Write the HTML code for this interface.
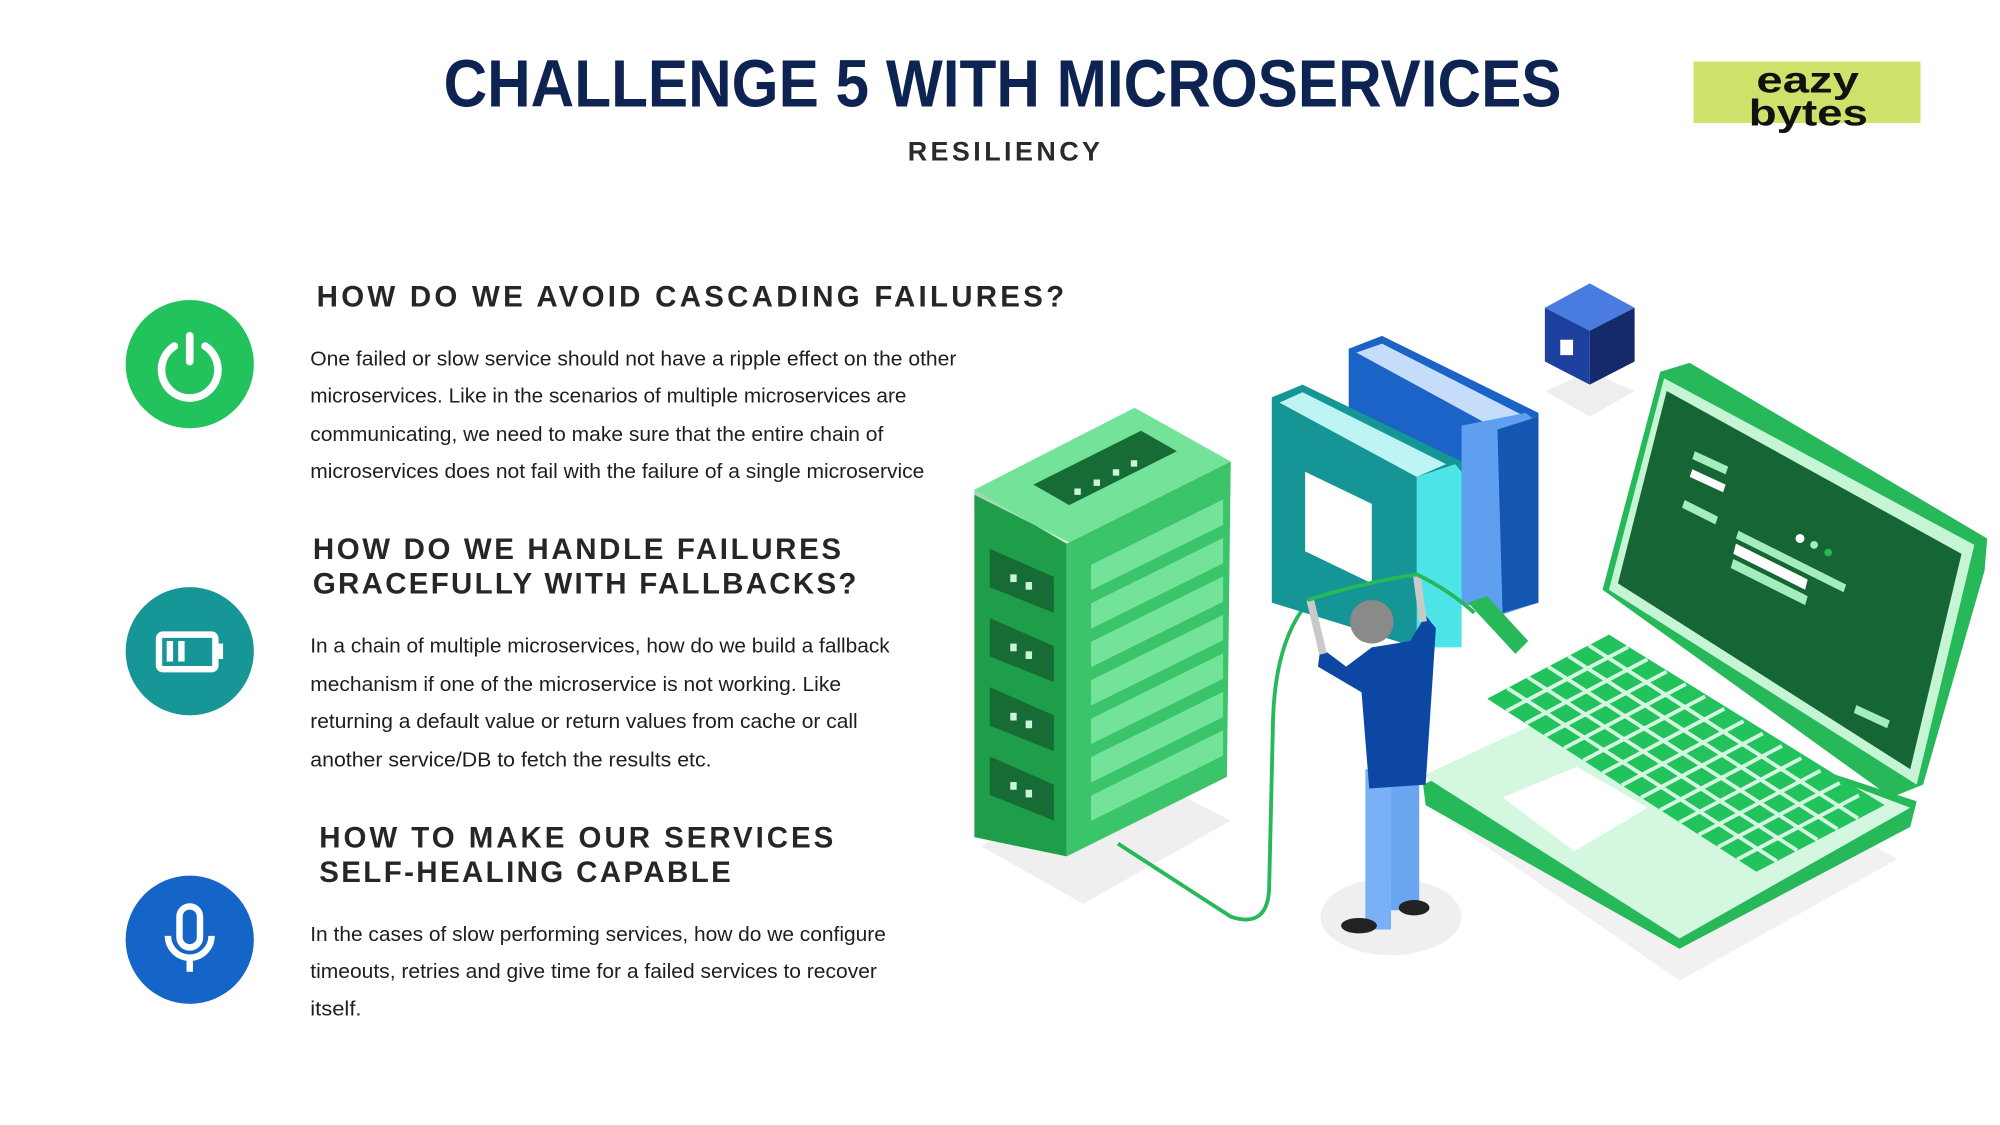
<!DOCTYPE html>
<html><head><meta charset="utf-8"><style>
html,body{margin:0;padding:0;background:#fff;}
svg{display:block}
text{font-family:"Liberation Sans",sans-serif}
</style></head><body>
<svg width="2000" height="1125" viewBox="0 0 1560 877.5" xmlns="http://www.w3.org/2000/svg">
<rect width="1560" height="877.5" fill="#fff"/>
<!-- Title -->
<text x="346" y="83" font-size="52" font-weight="bold" fill="#0d2352" textLength="872" lengthAdjust="spacingAndGlyphs">CHALLENGE 5 WITH MICROSERVICES</text>
<text x="708" y="125" font-size="21" font-weight="bold" fill="#2a2a2a" textLength="150" lengthAdjust="spacing">RESILIENCY</text>
<rect x="1321" y="48" width="177" height="48" fill="#cde26a"/>
<text x="1370" y="72" font-size="29" font-weight="bold" fill="#111" textLength="80" lengthAdjust="spacingAndGlyphs">eazy</text>
<text x="1364" y="98" font-size="29" font-weight="bold" fill="#111" textLength="93" lengthAdjust="spacingAndGlyphs">bytes</text>

<!-- Icons -->
<circle cx="148" cy="284" r="50" fill="#22c25c"/>
<path d="M136,270 A22,22 0 1 0 160,270" fill="none" stroke="#fff" stroke-width="6" stroke-linecap="round"/>
<line x1="148" y1="262" x2="148" y2="282" stroke="#fff" stroke-width="6" stroke-linecap="round"/>
<circle cx="148" cy="508" r="50" fill="#169696"/>
<rect x="124" y="495" width="44" height="27" rx="3" fill="none" stroke="#fff" stroke-width="5"/>
<rect x="168" y="502" width="6" height="12" fill="#fff"/>
<rect x="130" y="500" width="5" height="16" fill="#fff"/><rect x="139" y="500" width="5" height="16" fill="#fff"/>
<circle cx="148" cy="733" r="50" fill="#1565c8"/>
<rect x="140" y="707" width="16" height="32" rx="8" fill="none" stroke="#fff" stroke-width="5"/>
<path d="M131,730 A17,17 0 0 0 165,730" fill="none" stroke="#fff" stroke-width="5"/>
<line x1="148" y1="747" x2="148" y2="758" stroke="#fff" stroke-width="5"/>

<!-- Headings & text -->
<g font-size="23" font-weight="bold" fill="#262626">
<text x="247" y="239" textLength="583" lengthAdjust="spacing">HOW DO WE AVOID CASCADING FAILURES?</text>
<text x="244" y="436" textLength="412" lengthAdjust="spacing">HOW DO WE HANDLE FAILURES</text>
<text x="244" y="463" textLength="424" lengthAdjust="spacing">GRACEFULLY WITH FALLBACKS?</text>
<text x="249" y="661" textLength="401" lengthAdjust="spacing">HOW TO MAKE OUR SERVICES</text>
<text x="249" y="688" textLength="321" lengthAdjust="spacing">SELF-HEALING CAPABLE</text>
</g>
<g font-size="15.5" fill="#1e1e1e">
<text x="242" y="285" textLength="504" lengthAdjust="spacingAndGlyphs">One failed or slow service should not have a ripple effect on the other</text>
<text x="242" y="314" textLength="465" lengthAdjust="spacingAndGlyphs">microservices. Like in the scenarios of multiple microservices are</text>
<text x="242" y="344" textLength="447" lengthAdjust="spacingAndGlyphs">communicating, we need to make sure that the entire chain of</text>
<text x="242" y="373" textLength="479" lengthAdjust="spacingAndGlyphs">microservices does not fail with the failure of a single microservice</text>
<text x="242" y="509" textLength="452" lengthAdjust="spacingAndGlyphs">In a chain of multiple microservices, how do we build a fallback</text>
<text x="242" y="539" textLength="414" lengthAdjust="spacingAndGlyphs">mechanism if one of the microservice is not working. Like</text>
<text x="242" y="568" textLength="427" lengthAdjust="spacingAndGlyphs">returning a default value or return values from cache or call</text>
<text x="242" y="598" textLength="313" lengthAdjust="spacingAndGlyphs">another service/DB to fetch the results etc.</text>
<text x="242" y="734" textLength="449" lengthAdjust="spacingAndGlyphs">In the cases of slow performing services, how do we configure</text>
<text x="242" y="763" textLength="442" lengthAdjust="spacingAndGlyphs">timeouts, retries and give time for a failed services to recover</text>
<text x="242" y="792" textLength="40" lengthAdjust="spacingAndGlyphs">itself.</text>
</g>

<!-- Shadows -->
<polygon points="765,660 880,600 960,640 845,705" fill="#efefef"/>
<ellipse cx="1085" cy="715" rx="55" ry="30" fill="#efefef"/>
<polygon points="1130,640 1300,570 1480,670 1310,765" fill="#f1f1f1"/>
<polygon points="1205,305 1240,290 1275,305 1240,325" fill="#eeeeee"/>

<!-- Server -->
<polygon points="760,382 885,318 960,360 832,424" fill="#74e39a"/>
<polygon points="806,378 890,336 918,352 834,394" fill="#176b34"/>
<g fill="#c9f5d8"><rect x="838" y="381" width="5" height="5"/><rect x="853" y="374" width="5" height="5"/><rect x="868" y="366" width="5" height="5"/><rect x="882" y="359" width="5" height="5"/></g>
<polygon points="760,382 832,424 832,668 760,653" fill="#1e9e48"/>
<polygon points="760,382 832,424 848,430 760,386" fill="#fff" opacity=".6"/>
<polygon points="832,424 960,360 957,606 832,668" fill="#3cc46a"/>
<g fill="#176b34">
<polygon points="772,428 822,450 822,478 772,458"/>
<polygon points="772,482 822,504 822,532 772,512"/>
<polygon points="772,536 822,558 822,586 772,566"/>
<polygon points="772,590 822,612 822,640 772,620"/>
</g>
<g fill="#c9f5d8"><rect x="788" y="448" width="5" height="6"/><rect x="800" y="454" width="5" height="6"/><rect x="788" y="502" width="5" height="6"/><rect x="800" y="508" width="5" height="6"/><rect x="788" y="556" width="5" height="6"/><rect x="800" y="562" width="5" height="6"/><rect x="788" y="610" width="5" height="6"/><rect x="800" y="616" width="5" height="6"/></g>
<g fill="#74e39a" stroke="#3cc46a" stroke-width="2">
<polygon points="850,440 955,388 955,410 850,462"/>
<polygon points="850,470 955,418 955,440 850,492"/>
<polygon points="850,500 955,448 955,470 850,522"/>
<polygon points="850,530 955,478 955,500 850,552"/>
<polygon points="850,560 955,508 955,530 850,582"/>
<polygon points="850,590 955,538 955,560 850,612"/>
<polygon points="850,620 955,568 955,590 850,642"/>
</g>
<path d="M872,658 L960,715 Q990,725 990,690 L993,560 Q995,500 1020,470" fill="none" stroke="#27b85a" stroke-width="3"/>

<!-- Cube -->
<polygon points="1205,240 1240,221 1275,240 1240,258" fill="#4a7be0"/>
<polygon points="1205,240 1240,258 1240,300 1205,282" fill="#1d3f9e"/>
<polygon points="1240,258 1275,240 1275,282 1240,300" fill="#142a6a"/>
<rect x="1217" y="265" width="10" height="12" fill="#fff"/>

<!-- Books -->
<polygon points="1052,272 1078,262 1200,322 1200,470 1172,478 1052,420" fill="#1b63c7"/>
<polygon points="1058,275 1078,268 1190,325 1168,335" fill="#c5ddfb"/>
<polygon points="1140,332 1190,322 1200,330 1200,470 1170,480 1140,470" fill="#5ea0ef"/>
<polygon points="1168,335 1200,325 1200,470 1172,478" fill="#1457b2"/>
<polygon points="992,310 1016,300 1140,360 1140,500 1105,505 992,470" fill="#159595"/>
<polygon points="998,314 1016,306 1128,362 1105,372" fill="#bff4f5"/>
<polygon points="1105,372 1135,362 1140,368 1140,505 1105,505" fill="#4de4e8"/>
<polygon points="1018,368 1070,393 1070,455 1018,430" fill="#fff"/>

<!-- Laptop -->
<polygon points="1110,612 1250,545 1495,625 1490,645 1310,740 1112,628" fill="#27b85a"/>
<polygon points="1110,605 1250,540 1490,630 1310,732" fill="#d4f7e0"/>
<polygon points="1160,545 1255,495 1470,628 1370,680" fill="#22c25c"/>
<g stroke="#d4f7e0" stroke-width="3">
<line x1="1175.8" y1="536.7" x2="1385.8" y2="671.7"/>
<line x1="1191.7" y1="528.3" x2="1401.7" y2="663.3"/>
<line x1="1207.5" y1="520" x2="1417.5" y2="655"/>
<line x1="1223.3" y1="511.7" x2="1433.3" y2="646.7"/>
<line x1="1239.2" y1="503.3" x2="1449.2" y2="638.3"/>
<line x1="1175" y1="554.6" x2="1270" y2="504.6"/>
<line x1="1190" y1="564.3" x2="1285" y2="514.3"/>
<line x1="1205" y1="573.9" x2="1300" y2="523.9"/>
<line x1="1220" y1="583.6" x2="1315" y2="533.6"/>
<line x1="1235" y1="593.2" x2="1330" y2="543.2"/>
<line x1="1250" y1="602.9" x2="1345" y2="552.9"/>
<line x1="1265" y1="612.5" x2="1360" y2="562.5"/>
<line x1="1280" y1="622.1" x2="1375" y2="572.1"/>
<line x1="1295" y1="631.8" x2="1390" y2="581.8"/>
<line x1="1310" y1="641.4" x2="1405" y2="591.4"/>
<line x1="1325" y1="651.1" x2="1420" y2="601.1"/>
<line x1="1340" y1="660.7" x2="1435" y2="610.7"/>
<line x1="1355" y1="670.4" x2="1450" y2="620.4"/>
</g>
<polygon points="1172,622 1230,598 1285,630 1228,664" fill="#fff"/>
<polygon points="1250,460 1295,290 1318,283 1550,420 1548,445 1500,612 1475,622" fill="#27b85a"/>
<polygon points="1255,460 1298,295 1540,425 1495,612" fill="#c6f5d6"/>
<polygon points="1262,455 1300,305 1530,432 1490,600" fill="#166534"/>
<g fill="#a5ecbe">
<polygon points="1322,352 1348,364 1346,370 1320,358"/>
<polygon points="1314,390 1340,403 1338,409 1312,396"/>
<polygon points="1356,414 1440,456 1438,462 1354,420"/>
<polygon points="1352,436 1410,465 1408,472 1350,443"/>
<polygon points="1448,550 1474,562 1472,568 1446,556"/>
</g>
<polygon points="1320,366 1346,378 1344,384 1318,372" fill="#fff"/>
<polygon points="1354,424 1410,452 1408,460 1352,432" fill="#fff"/>
<circle cx="1404" cy="420" r="3.5" fill="#fff"/><circle cx="1415" cy="425" r="3" fill="#a5ecbe"/><circle cx="1426" cy="431" r="3" fill="#27b85a"/>

<!-- Person -->
<rect x="1065" y="600" width="20" height="125" fill="#7ab0f5"/>
<rect x="1085" y="600" width="22" height="110" fill="#6aa5f0"/>
<ellipse cx="1060" cy="722" rx="14" ry="6" fill="#222"/>
<ellipse cx="1103" cy="708" rx="12" ry="6" fill="#222"/>
<polygon points="1030,505 1050,520 1070,505 1100,500 1112,480 1120,490 1112,612 1068,615 1062,540 1028,520" fill="#0b47a3"/>
<line x1="1032" y1="510" x2="1022" y2="468" stroke="#c9c9c9" stroke-width="6"/>
<line x1="1110" y1="485" x2="1105" y2="448" stroke="#c9c9c9" stroke-width="6"/>
<circle cx="1070" cy="485" r="17" fill="#8a8a8a"/>
<path d="M1020,468 Q1060,455 1105,448 Q1130,460 1150,478" fill="none" stroke="#27b85a" stroke-width="3"/>
<polygon points="1145,470 1160,465 1192,500 1182,510" fill="#27b85a"/>
</svg>
</body></html>
